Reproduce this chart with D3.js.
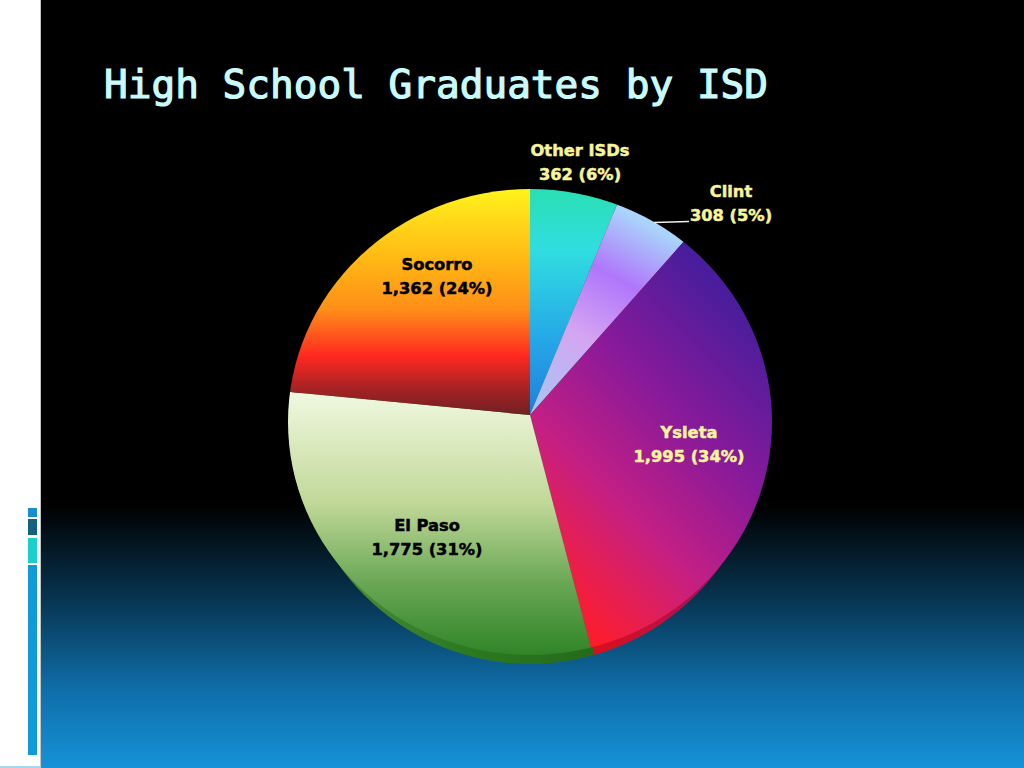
<!DOCTYPE html>
<html>
<head>
<meta charset="utf-8">
<script src="https://cdnjs.cloudflare.com/ajax/libs/d3/7.8.5/d3.min.js"></script>
<style>
  html, body { margin: 0; padding: 0; background: #000; overflow: hidden; }
  svg { display: block; }
</style>
</head>
<body>
<div id="chart"></div>
<script>
const width = 1024, height = 768;

// data, clockwise from 12 o'clock
const categories = ["Other ISDs", "Clint", "Ysleta", "El Paso", "Socorro"];
const graduates = [362, 308, 1995, 1775, 1362];
const shares = [6, 5, 34, 31, 24];

const title = "High School Graduates by ISD";

// the wedges meet at the apex, the tilted rim is an ellipse a bit lower down
const apex = { x: 530, y: 415 };
const rim = { cx: 530, cy: 422, rx: 242, ry: 233 };
const depth = 9;

const svg = d3.select("#chart").append("svg")
  .attr("width", width)
  .attr("height", height);
const defs = svg.append("defs");

function gradient(id, x1, y1, x2, y2, stops, transform) {
  const g = defs.append("linearGradient")
    .attr("id", id)
    .attr("gradientUnits", "userSpaceOnUse")
    .attr("x1", x1).attr("y1", y1).attr("x2", x2).attr("y2", y2);
  if (transform) g.attr("gradientTransform", transform);
  g.selectAll("stop").data(stops).join("stop")
    .attr("offset", d => d[0])
    .attr("stop-color", d => d[1]);
}

// background
gradient("bg", 0, 505, 0, 768, [[0, "#000000"], [0.35, "#07334f"], [0.7, "#0f6ea8"], [1, "#1592d8"]]);
svg.append("rect").attr("width", width).attr("height", height).attr("fill", "url(#bg)");

// white strip on the left with its small bars
svg.append("rect").attr("width", 40).attr("height", height).attr("fill", "#ffffff");
svg.append("rect").attr("x", 40).attr("width", 1).attr("height", height).attr("fill", "#c4c4c4");
svg.append("rect").attr("y", 766).attr("width", 41).attr("height", 2).attr("fill", "#a8d4ec");
const bars = [[508, 9, "#1a8fd0"], [519, 16, "#14627f"], [538, 25, "#1ccfcf"], [565, 190, "#0e9bd8"]];
svg.selectAll("rect.side").data(bars).join("rect")
  .attr("class", "side")
  .attr("x", 28).attr("width", 9)
  .attr("y", d => d[0]).attr("height", d => d[1])
  .attr("fill", d => d[2]);

svg.append("text")
  .attr("x", 104).attr("y", 98)
  .attr("font-family", "'DejaVu Sans Mono'")
  .attr("font-size", 39.4)
  .attr("fill", "#c9fbfb")
  .attr("stroke", "#c9fbfb")
  .attr("stroke-width", 1.2)
  .text(title);

// slice gradients are given in page coordinates, the wedges sit in a translated frame
const toPage = `translate(${-apex.x},${-apex.y})`;
gradient("g0", 0, 190, 0, 415, [[0, "#2adfb4"], [0.27, "#30dde0"], [0.66, "#25a8e8"], [1, "#1f7fdc"]], toPage);
gradient("g1", 650, 225, 546, 415, [[0, "#aad4fb"], [0.29, "#b076fb"], [0.6, "#d4a5f2"], [1, "#a8c5f5"]], toPage);
gradient("g2", 590, 645, 833, 402, [[0, "#ff1c28"], [0.2, "#e01f5c"], [0.35, "#c41f84"], [0.65, "#8a1a9a"], [1, "#4a1d9c"]], toPage);
gradient("g3", 0, 393, 0, 656, [[0, "#f0f8e0"], [0.42, "#c0d898"], [0.72, "#6aa755"], [1, "#2f8426"]], toPage);
gradient("g4", 0, 190, 0, 415, [[0, "#fff21c"], [0.33, "#ffb414"], [0.53, "#ff8e18"], [0.74, "#ff2820"], [0.88, "#a82224"], [1, "#702025"]], toPage);

// side of the pie, showing under the rim
const splitX = 593;
gradient("sideG", 330, 0, splitX, 0, [[0, "#4f8a3c"], [0.5, "#2c7a22"], [1, "#256a1c"]]);
gradient("sideR", splitX, 0, 730, 0, [[0, "#d8101c"], [0.5, "#c01040"], [1, "#901068"]]);
defs.append("clipPath").attr("id", "sideLeft").append("rect")
  .attr("width", splitX).attr("height", height);
defs.append("clipPath").attr("id", "sideRight").append("rect")
  .attr("x", splitX).attr("width", width - splitX).attr("height", height);
[["sideLeft", "sideG"], ["sideRight", "sideR"]].forEach(([clip, fill]) => {
  svg.append("ellipse")
    .attr("cx", rim.cx).attr("cy", rim.cy + depth)
    .attr("rx", rim.rx - 8.5).attr("ry", rim.ry)
    .attr("fill", `url(#${fill})`)
    .attr("clip-path", `url(#${clip})`);
});

defs.append("clipPath").attr("id", "rim").append("ellipse")
  .attr("cx", rim.cx).attr("cy", rim.cy).attr("rx", rim.rx).attr("ry", rim.ry);

const pie = d3.pie().sort(null).value(d => d);
const wedge = d3.arc().innerRadius(0).outerRadius(600);

svg.append("g")
  .attr("clip-path", "url(#rim)")
  .selectAll("path").data(pie(graduates)).join("path")
  .attr("transform", `translate(${apex.x},${apex.y})`)
  .attr("d", wedge)
  .attr("fill", (d, i) => `url(#g${i})`);

// Clint leader line
svg.append("path")
  .attr("d", d3.line()([[654, 222.5], [689, 221.5]]))
  .attr("fill", "none").attr("stroke", "#f0f0f0").attr("stroke-width", 1.4);

// labels
const labelPos = [[580, 150, "#f7f59a"], [731, 191, "#f7f59a"], [689, 432, "#f7f59a"], [427, 525, "#000"], [437, 264, "#000"]];
const fmt = d3.format(",");
const labels = svg.selectAll("g.label").data(categories).join("g")
  .attr("class", "label")
  .attr("font-family", "'DejaVu Sans'")
  .attr("font-weight", "bold")
  .attr("font-size", 16.3)
  .attr("text-anchor", "middle")
  .attr("fill", (d, i) => labelPos[i][2])
  .attr("stroke", (d, i) => labelPos[i][2])
  .attr("stroke-width", 0.5);
labels.append("text")
  .attr("x", (d, i) => labelPos[i][0]).attr("y", (d, i) => labelPos[i][1] + 6)
  .text(d => d);
labels.append("text")
  .attr("x", (d, i) => labelPos[i][0]).attr("y", (d, i) => labelPos[i][1] + 30)
  .text((d, i) => `${fmt(graduates[i])} (${shares[i]}%)`);
</script>
</body>
</html>
